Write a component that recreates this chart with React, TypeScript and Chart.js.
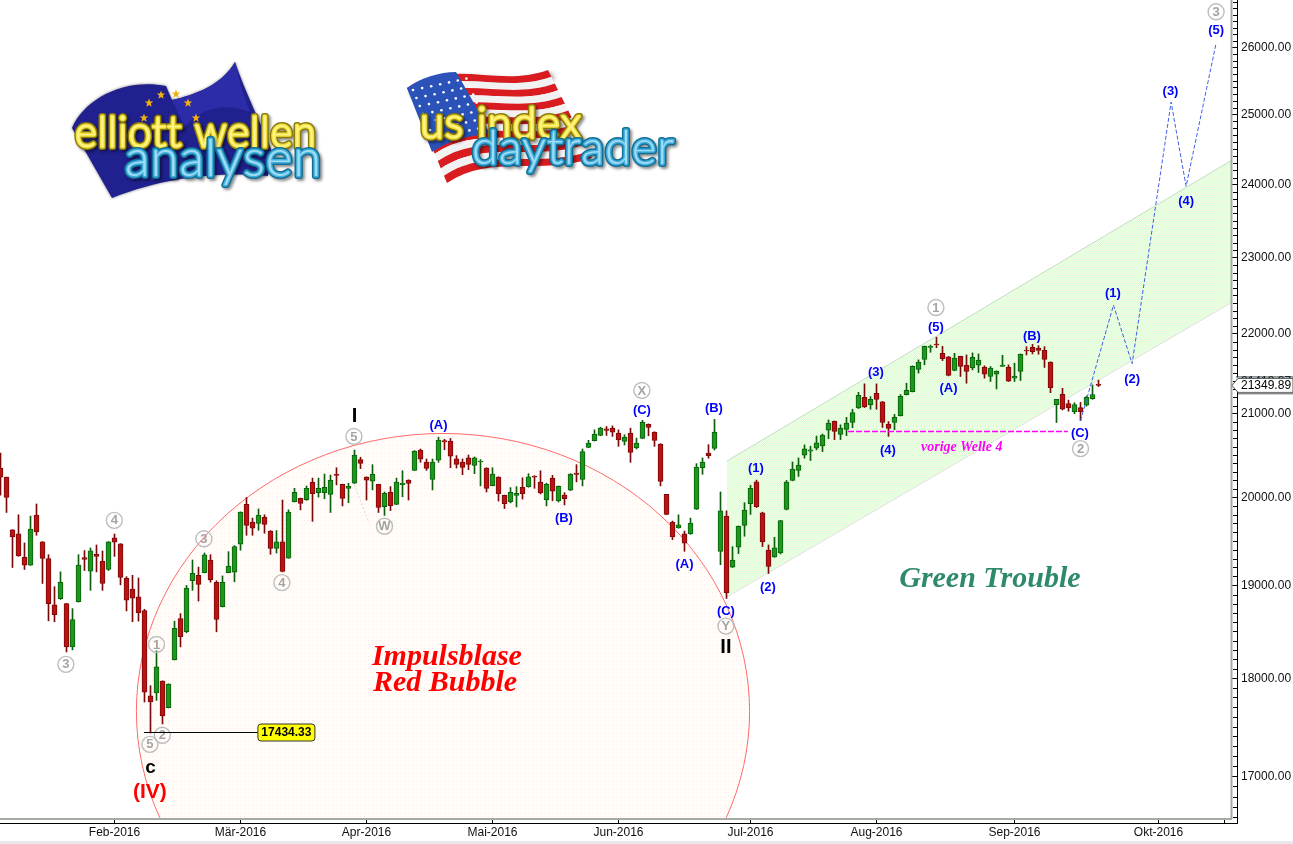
import React, { useEffect, useRef } from 'react';
import { Chart, registerables } from 'chart.js';
Chart.register(...registerables);

const opens = [20346,20239,19625,19579,19318,19227,19795,19488,19299,18788,
18853,18799,18332,18820,19310,19159,19352,19272,19178,19534,
19466,19079,18961,18874,18724,17816,17847,17969,17694,18196,
18637,18494,19052,19113,19143,19284,19034,18767,19143,19147,
19462,19920,19716,19701,19773,19613,19416,19488,19306,19951,
19989,19973,20179,20056,20056,20036,20275,20155,20107,20167,
20446,20239,20191,20155,19894,20060,19920,
20151,20203,20318,20561,20418,20211,20438,20673,20669,20454,20418,20466,20378,
20418,20346,20139,20239,20024,19951,20024,20119,20127,20251,
20179,19973,20227,19962,20028,20084,20287,20211,20593,20673,
20736,20816,20824,20764,20665,20764,20585,20700,20872,20776,
20633,20036,19716,19648,19579,19579,19864,20346,20525,20581,
19382,19784,19204,19428,19678,19928,20183,19822,19397,19318,
19363,19860,20199,20318,20499,20546,20582,20610,20801,20908,
20749,20809,20893,21072,21202,21110,21252,21147,20873,20893,
20976,21235,21273,21549,21674,21829,21870,21753,21708,21536,
21716,21603,21569,21603,21578,21461,21490,21586,21578,21440,
21523,21791,21829,21820,21791,21641,21110,21239,21126,21022,
21076,21105,21185,21365];
const closes = [20239,20000,19545,19329,19227,19636,19602,19303,18799,18680,
19034,18332,18627,19227,19291,19386,19325,19022,19488,19485,
19090,18838,18860,18698,17854,17752,18120,17609,17939,18530,
18440,18971,19136,19011,19341,19064,18627,19034,19215,19435,
19829,19678,19644,19795,19689,19416,19488,19155,19829,20060,
19932,20107,20044,20107,20119,20203,20259,19989,20131,20501,
20402,20203,20275,19883,20048,19905,20179,
20167,20163,20549,20450,20342,20418,20681,20657,20486,20390,20354,20390,20466,
20430,20107,20275,20044,19928,20060,20048,20044,20243,20239,
20052,20155,20072,20131,19985,20275,20271,20541,20645,20752,
20824,20796,20776,20681,20716,20533,20645,20896,20832,20677,
20187,19803,19545,19682,19473,19704,20358,20418,20494,20776,
19845,18921,19284,19666,19852,20107,19894,19488,19212,19420,
19731,20179,20334,20382,20574,20562,20646,20741,20885,20785,
20825,20885,21014,21227,21085,21177,21177,20893,20821,20956,
21214,21289,21590,21641,21841,21841,21858,21686,21473,21691,
21586,21523,21703,21666,21490,21565,21528,21603,21402,21465,
21741,21783,21774,21791,21674,21323,21177,21055,21072,21114,
21026,21202,21235,21350];
const highs = [20525,20239,19629,19799,19477,19784,19924,19492,19344,18986,
19151,18803,18745,19344,19390,19420,19454,19386,19492,19579,
19469,19098,19113,19083,18738,17922,18289,17973,17942,18609,
18691,19000,19284,19204,19363,19344,19052,19106,19378,19447,
19833,20000,19761,19867,19799,19617,19617,19970,19856,20107,
19992,20135,20227,20227,20275,20263,20350,20155,20167,20561,
20474,20243,20386,20155,20064,20127,20227,
20314,20207,20553,20573,20454,20454,20716,20689,20700,20494,20454,20501,20478,
20446,20350,20350,20243,20028,20115,20127,20231,20279,20255,
20314,20167,20259,20135,20056,20279,20386,20573,20677,20804,
20836,20844,20852,20804,20744,20824,20704,20919,20876,20780,
20637,20036,19727,19799,19613,19761,20398,20466,20625,20931,
20064,19845,19435,19670,19939,20143,20203,19829,19454,19541,
19735,20199,20418,20466,20622,20606,20729,20753,20924,20912,
20865,20956,21055,21264,21369,21210,21369,21151,20904,20992,
21235,21377,21595,21670,21845,21858,21958,21841,21712,21753,
21716,21732,21758,21745,21595,21586,21532,21728,21607,21628,
21745,21837,21866,21850,21837,21645,21177,21314,21168,21135,
21139,21218,21356,21415];
const lows = [20028,19826,19200,19325,19178,19223,19564,19022,18612,18602,
18846,18278,18300,18817,19166,18946,19151,18946,19166,19325,
19007,18720,18602,18609,17752,17434,17769,17527,17691,18192,
18332,18483,18946,18828,19140,19037,18494,18763,19140,19041,
19394,19564,19564,19621,19587,19348,19363,19151,19303,19947,
19856,19966,19723,20004,19985,19826,20147,19901,19939,20163,
20338,19970,20088,19826,19792,19848,19916,
20008,19970,20314,20414,20318,20088,20414,20565,20350,20346,20267,20326,20279,
20135,20064,20135,19958,19871,19936,19890,19981,20119,20107,
20040,19901,19962,19947,19913,20080,20183,20135,20589,20669,
20732,20736,20724,20605,20621,20414,20573,20696,20732,20605,
20135,19799,19515,19644,19382,19575,19860,20271,20462,20561,
19231,18856,19200,19356,19553,19803,19883,19435,19132,19314,
19352,19856,20195,20247,20463,20435,20562,20542,20698,20686,
20686,20733,20829,21064,21076,21055,21055,20833,20725,20805,
20972,21231,21269,21503,21607,21766,21824,21661,21469,21532,
21461,21377,21544,21511,21440,21398,21306,21586,21398,21398,
21411,21732,21745,21741,21574,21260,20893,21047,21030,21001,
20916,21093,21177,21335];

const monthTickIdx = [19, 40, 61, 82, 103, 125, 146, 169, 193, 204];
const monthLabels = ['Feb-2016', 'Mär-2016', 'Apr-2016', 'Mai-2016', 'Jun-2016', 'Jul-2016', 'Aug-2016', 'Sep-2016', 'Okt-2016', ''];
const priceTicks = [17000, 18000, 19000, 20000, 21000, 22000, 23000, 24000, 25000, 26000];

const channelUpperIdx = [121.08, 205.25];
const channelUpperPrice = [20430, 24347];
const channelLowerIdx = [121.08, 205.25];
const channelLowerPrice = [18875, 22412];

const forecastIdx = [180, 185.5, 188.6, 195.1, 197.6, 202.6];
const forecastPrice = [20915, 22372, 21622, 25183, 23977, 26061];

const prevWaveIdx = [141.25, 177.9];
const prevWavePrice = [20784, 20784];
const swingIdx = [59, 61.4];
const swingPrice = [20148, 19709];
const lowLineIdx = [23.9, 42.9];
const lowPrice = 17434.33;
const lastPrice = 21349.89;
const prevLastPrice = 21413.37;

const grayTexts = ['3', '4', '1', '5', '2', '3', '4', '5', 'W', 'X', 'Y', '1', '2', '3'];
const grayIdx = [10.9, 18.97, 26, 24.9, 26.97, 33.9, 46.9, 58.9, 64, 106.9, 120.9, 155.9, 180, 202.6];
const grayPrice = [18146, 19735, 18358, 17319, 17411, 19524, 19031, 20724, 19667, 21287, 18555, 22341, 20577, 26544];

const blueTexts = ['(A)', '(B)', '(C)', '(B)', '(A)', '(C)', '(1)', '(2)', '(3)', '(4)', '(5)', '(A)', '(B)', '(C)', '(1)', '(2)', '(3)', '(4)', '(5)'];
const blueIdx = [73, 93.9, 106.9, 118.9, 114, 120.9, 125.9, 127.9, 145.9, 147.9, 155.9, 158, 171.9, 179.9, 185.4, 188.6, 195, 197.6, 202.6];
const bluePrice = [20864, 19769, 21058, 21079, 19240, 18728, 20354, 18986, 21525, 20569, 22102, 21325, 21976, 20772, 22537, 21437, 25352, 23775, 26266];

const bubbleCenterIdx = 73.75;
const bubbleRadiusIdx = 51.1;
const bubbleTopPrice = 20760;
const bubbleCenterPrice = 17656;

function makeTile(size: number, bg: string, dots: [number, number, string][]) {
  const c = document.createElement('canvas');
  c.width = size; c.height = size;
  const g = c.getContext('2d')!;
  g.fillStyle = bg; g.fillRect(0, 0, size, size);
  dots.forEach(([x, y, col]) => { g.fillStyle = col; g.fillRect(x, y, 1, 1); });
  return g.createPattern(c, 'repeat')!;
}

function logoText(ctx: CanvasRenderingContext2D, text: string, x: number, y: number, w: number, font: string, outer: string, inner: string, hi: string) {
  ctx.save();
  ctx.font = font;
  (ctx as any).letterSpacing = '1px';
  ctx.lineJoin = 'round';
  ctx.lineCap = 'round';
  ctx.textAlign = 'left';
  ctx.textBaseline = 'alphabetic';
  ctx.shadowColor = 'rgba(0,0,0,0.45)';
  ctx.shadowBlur = 3;
  ctx.shadowOffsetX = 2;
  ctx.shadowOffsetY = 2;
  ctx.strokeStyle = outer;
  ctx.lineWidth = 6;
  ctx.strokeText(text, x, y, w);
  ctx.shadowColor = 'transparent';
  ctx.strokeStyle = inner;
  ctx.lineWidth = 3;
  ctx.strokeText(text, x, y, w);
  ctx.fillStyle = hi;
  ctx.fillText(text, x, y, w);
  ctx.restore();
}

function star(ctx: CanvasRenderingContext2D, x: number, y: number, r: number) {
  ctx.beginPath();
  for (let k = 0; k < 10; k++) {
    const a = -Math.PI / 2 + k * Math.PI / 5;
    const q = k % 2 ? r * 0.42 : r;
    const px = x + q * Math.cos(a), py = y + q * Math.sin(a);
    if (k === 0) ctx.moveTo(px, py); else ctx.lineTo(px, py);
  }
  ctx.closePath();
  ctx.fill();
}

function drawLogos(ctx: CanvasRenderingContext2D) {
  // EU flag
  ctx.save();
  ctx.shadowColor = 'rgba(60,60,60,0.7)';
  ctx.shadowBlur = 3;
  ctx.fillStyle = '#20208e';
  ctx.beginPath();
  ctx.moveTo(72, 128);
  ctx.bezierCurveTo(85, 98, 125, 78, 166, 86);
  ctx.lineTo(172, 100);
  ctx.bezierCurveTo(195, 95, 222, 85, 235, 62);
  ctx.bezierCurveTo(245, 92, 262, 125, 272, 152);
  ctx.lineTo(268, 176);
  ctx.bezierCurveTo(225, 172, 170, 175, 112, 198);
  ctx.closePath();
  ctx.fill();
  ctx.shadowColor = 'transparent';
  ctx.fillStyle = '#2c2ca8';
  ctx.beginPath();
  ctx.moveTo(172, 100);
  ctx.bezierCurveTo(195, 95, 222, 85, 235, 62);
  ctx.bezierCurveTo(240, 85, 245, 100, 250, 112);
  ctx.bezierCurveTo(220, 100, 195, 112, 185, 128);
  ctx.closePath();
  ctx.fill();
  ctx.fillStyle = '#f0b010';
  [[149, 103], [161, 95], [176, 94], [188, 103], [196, 118], [144, 118]].forEach(([x, y]) => star(ctx, x, y, 4.5));
  ctx.restore();

  // US flag
  ctx.save();
  ctx.shadowColor = 'rgba(60,60,60,0.6)';
  ctx.shadowBlur = 5;
  ctx.shadowOffsetX = 3;
  ctx.shadowOffsetY = 3;
  const stripeCount = 13;
  for (let s = 0; s < stripeCount; s++) {
    const a = s / stripeCount, b = (s + 1) / stripeCount;
    const lx = (t: number) => 407 + (447 - 407) * t, ly = (t: number) => 88 + (183 - 88) * t;
    const rx = (t: number) => 548 + (592 - 548) * t, ry = (t: number) => 70 + (158 - 70) * t;
    ctx.fillStyle = s % 2 ? '#f2f2f2' : '#d81c20';
    ctx.beginPath();
    ctx.moveTo(lx(a), ly(a));
    ctx.bezierCurveTo(lx(a) + 45, ly(a) - 30, rx(a) - 50, ry(a) + 18, rx(a), ry(a));
    ctx.lineTo(rx(b), ry(b));
    ctx.bezierCurveTo(rx(b) - 50, ry(b) + 18, lx(b) + 45, ly(b) - 30, lx(b), ly(b));
    ctx.closePath();
    ctx.fill();
    ctx.shadowColor = 'transparent';
  }
  ctx.fillStyle = '#2a52b8';
  ctx.beginPath();
  ctx.moveTo(407, 88);
  ctx.bezierCurveTo(420, 78, 440, 72, 456, 72);
  ctx.bezierCurveTo(470, 95, 482, 118, 490, 134);
  ctx.bezierCurveTo(470, 135, 450, 140, 432, 152);
  ctx.closePath();
  ctx.fill();
  ctx.fillStyle = '#ffffff';
  for (let r = 0; r < 7; r++) {
    for (let c = 0; c < 7; c++) {
      const px = 413 + c * 9.2 + r * 3.4 - (c * c) * 0.05;
      const py = 90 + r * 8 - c * 1.9;
      if (px + 0 < 486 && py > 74) { ctx.beginPath(); ctx.arc(px, py, 1.3, 0, Math.PI * 2); ctx.fill(); }
    }
  }
  ctx.restore();

  logoText(ctx, 'elliott wellen', 75, 147, 242, '300 44px "Lato"', '#8a7a08', '#f2e040', '#fff58a');
  logoText(ctx, 'analysen', 125, 176, 197, '300 52px "Lato"', '#0f6f96', '#43aedb', '#9fdcf5');
  logoText(ctx, 'us index', 420, 138, 162, '300 44px "Lato"', '#8a7a08', '#f2e040', '#fff58a');
  logoText(ctx, 'daytrader', 472, 164, 203, '300 48px "Lato"', '#0f6f96', '#43aedb', '#9fdcf5');
}

const overlayPlugin = {
  id: 'overlay',
  beforeDatasetsDraw(chart: any) {
    const { ctx, chartArea, scales } = chart;
    const xs = scales.x, ys = scales.y;
    ctx.save();
    drawLogos(ctx);
    ctx.beginPath();
    ctx.rect(chartArea.left, chartArea.top, chartArea.right - chartArea.left, chartArea.bottom - chartArea.top);
    ctx.clip();
    const cx = xs.getPixelForValue(bubbleCenterIdx);
    const rx = xs.getPixelForValue(bubbleCenterIdx + bubbleRadiusIdx) - cx;
    const cy = ys.getPixelForValue(bubbleCenterPrice);
    const ry = cy - ys.getPixelForValue(bubbleTopPrice);
    ctx.beginPath();
    ctx.ellipse(cx, cy, rx, ry, 0, 0, Math.PI * 2);
    ctx.fillStyle = makeTile(4, '#fffefc', [[0, 0, '#ffe8e8'], [2, 2, '#fff6e0']]);
    ctx.fill();
    ctx.strokeStyle = '#ff6a6a';
    ctx.lineWidth = 1;
    ctx.stroke();
    ctx.restore();
  },
  afterDatasetsDraw(chart: any) {
    const { ctx, chartArea, scales } = chart;
    const xs = scales.x, ys = scales.y;
    ctx.save();
    ctx.textAlign = 'center';
    ctx.textBaseline = 'middle';

    // big notes
    const note = (t: string, idx: number, price: number, font: string, color: string, dy = 0) => {
      ctx.font = font; ctx.fillStyle = color;
      ctx.fillText(t, xs.getPixelForValue(idx), ys.getPixelForValue(price) + dy);
    };
    note('Impulsblase', 74.4, 18239, 'italic bold 30px "Liberation Serif"', '#ff0000', 2);
    note('Red Bubble', 74.1, 17972, 'italic bold 30px "Liberation Serif"', '#ff0000', 2);
    note('Green Trouble', 164.9, 19095, 'italic bold 30px "Liberation Serif"', '#2e8b6a', 2);
    note('vorige Welle 4', 160.2, 20601, 'italic bold 14px "Liberation Serif"', '#ff00ff', 1);
    note('I', 59, 20963, 'bold 20px "Liberation Sans"', '#000000');
    note('II', 120.9, 18336, 'bold 20px "Liberation Sans"', '#000000', 1);
    note('c', 25, 17088, 'bold 19px "Liberation Sans"', '#000000');
    note('(IV)', 24.9, 16841, 'bold 21px "Liberation Sans"', '#ff0000');

    // gray wave marks
    grayTexts.forEach((t, i) => {
      const x = xs.getPixelForValue(grayIdx[i]), y = ys.getPixelForValue(grayPrice[i]);
      ctx.beginPath();
      ctx.arc(x, y, 8, 0, Math.PI * 2);
      ctx.strokeStyle = '#bdbdbd';
      ctx.lineWidth = 1.4;
      ctx.stroke();
      ctx.font = 'bold 13px "Liberation Sans"';
      ctx.fillStyle = '#a4a4a4';
      ctx.fillText(t, x, y + 0.5);
    });

    // blue wave marks
    ctx.font = 'bold 13px "Liberation Sans"';
    ctx.fillStyle = '#0000ff';
    blueTexts.forEach((t, i) => {
      ctx.fillText(t, xs.getPixelForValue(blueIdx[i]), ys.getPixelForValue(bluePrice[i]) + 1);
    });

    // low line and badge
    const ly = ys.getPixelForValue(lowPrice);
    const lowRow = Math.floor(ly - 0.5);
    const lx0 = xs.getPixelForValue(lowLineIdx[0]);
    const lx = xs.getPixelForValue(lowLineIdx[1]);
    ctx.fillStyle = '#000000';
    ctx.fillRect(lx0, lowRow, lx - lx0, 1);
    ctx.beginPath();
    ctx.roundRect(lx, lowRow - 8, 57, 17, 3);
    ctx.fillStyle = '#ffff00';
    ctx.fill();
    ctx.strokeStyle = '#333333';
    ctx.lineWidth = 1;
    ctx.stroke();
    ctx.font = 'bold 12px "Liberation Sans"';
    ctx.fillStyle = '#000000';
    ctx.fillText(lowPrice.toFixed(2), lx + 28.5, lowRow + 1);

    // frame and minor ticks
    const right = chartArea.right, bottom = chartArea.bottom;
    ctx.fillStyle = '#a4aca2';
    ctx.fillRect(right - 1.5, 0, 2, bottom);
    ctx.fillRect(0, bottom - 1, right, 2);
    ctx.fillStyle = '#000000';
    ctx.fillRect(1237, 0, 1, 824);
    ctx.fillRect(0, 823, 1238, 1);
    for (let v = 16600; v <= 26700; v += 100) {
      if (v % 1000 === 0) continue;
      ctx.fillRect(1233, Math.round(ys.getPixelForValue(v)), 4, 1);
    }

    // last price flags
    const py = ys.getPixelForValue(lastPrice);
    const ppy = ys.getPixelForValue(prevLastPrice);
    ctx.save();
    ctx.beginPath();
    ctx.rect(1232, ppy - 4, 61, 6);
    ctx.clip();
    ctx.fillStyle = '#cdeeff';
    ctx.fillRect(1236, ppy - 3, 57, 12);
    ctx.fillStyle = '#333333';
    ctx.fillRect(1236, ppy - 4, 57, 1);
    ctx.font = '12px "Liberation Sans"';
    ctx.textAlign = 'left';
    ctx.fillStyle = '#000000';
    ctx.fillText(prevLastPrice.toFixed(2), 1241, ppy + 1);
    ctx.restore();
    ctx.beginPath();
    ctx.moveTo(1293, py - 7);
    ctx.lineTo(1238, py - 7);
    ctx.lineTo(1232, py);
    ctx.lineTo(1238, py + 7);
    ctx.lineTo(1293, py + 7);
    ctx.closePath();
    ctx.fillStyle = '#ffffff';
    ctx.fill();
    ctx.strokeStyle = '#555555';
    ctx.lineWidth = 1;
    ctx.stroke();
    ctx.fillStyle = '#888888';
    ctx.fillRect(1238, py + 7, 55, 2);
    ctx.font = '12px "Liberation Sans"';
    ctx.textAlign = 'left';
    ctx.fillStyle = '#000000';
    ctx.fillText(lastPrice.toFixed(2), 1241, py + 0.5);

    // window strip
    ctx.fillStyle = '#e9e8ef';
    ctx.fillRect(0, 841, 1293, 3);
    ctx.restore();
  },
};

const toXY = (xs: number[], ys: number[]) => xs.map((x, i) => ({ x, y: ys[i] }));

export default function App() {
  const ref = useRef<HTMLCanvasElement>(null);
  useEffect(() => {
    const idx = opens.map((_, i) => i);
    const up = (i: number) => closes[i] >= opens[i];
    const channelFill = makeTile(2, '#dcfbd8', [[0, 0, '#f2ffe4'], [1, 1, '#e8fff6']]);
    const chart = new Chart(ref.current!, {
      type: 'bar',
      data: {
        datasets: [
          {
            type: 'line', data: toXY(channelUpperIdx, channelUpperPrice), order: 9,
            borderColor: '#c4dcc4', borderWidth: 1, pointRadius: 0,
            fill: { target: '+1', above: channelFill, below: channelFill },
          },
          {
            type: 'line', data: toXY(channelLowerIdx, channelLowerPrice), order: 9,
            borderColor: '#d8c8dc', borderWidth: 1, pointRadius: 0, fill: false,
          },
          {
            type: 'line', data: toXY(swingIdx, swingPrice), order: 8,
            borderColor: '#e6d6d6', borderWidth: 1, borderDash: [2, 2], pointRadius: 0, fill: false,
          },
          {
            data: idx.map(i => ({ x: i, y: [lows[i], highs[i]] })), order: 3,
            backgroundColor: idx.map(i => (up(i) ? '#0b5f0b' : '#7a0a0a')),
            barThickness: 1, grouped: false, borderWidth: 0,
          },
          {
            data: idx.map(i => ({ x: i, y: [Math.min(opens[i], closes[i]), Math.max(opens[i], closes[i])] })), order: 2,
            backgroundColor: idx.map(i => (up(i) ? '#1c981c' : '#bc1212')),
            borderColor: idx.map(i => (up(i) ? '#0b5f0b' : '#7a0a0a')),
            borderWidth: 1, borderSkipped: false, barThickness: 5, grouped: false,
          },
          {
            type: 'line', data: toXY(prevWaveIdx, prevWavePrice), order: 1,
            borderColor: '#ff00ff', borderWidth: 1.3, borderDash: [6, 2], pointRadius: 0, fill: false,
          },
          {
            type: 'line', data: toXY(forecastIdx, forecastPrice), order: 1,
            borderColor: '#3f5fe8', borderWidth: 1, borderDash: [4, 2], pointRadius: 0, fill: false, tension: 0,
          },
        ] as any,
      },
      options: {
        responsive: false,
        animation: false,
        devicePixelRatio: 1,
        events: [],
        layout: { padding: 0 },
        plugins: { legend: { display: false }, tooltip: { enabled: false } },
        scales: {
          x: {
            type: 'linear',
            offset: false,
            min: -0.0833,
            max: 205.25,
            grid: { offset: false, drawOnChartArea: false, drawTicks: true, tickLength: 5, tickColor: '#000000' },
            border: { display: false },
            afterBuildTicks: (axis: any) => { axis.ticks = monthTickIdx.map(v => ({ value: v })); },
            afterFit: (axis: any) => { axis.height = 25; axis.paddingLeft = 0; axis.paddingRight = 0; },
            ticks: {
              autoSkip: false, maxRotation: 0, padding: 1,
              font: { family: '"Liberation Sans"', size: 12 }, color: '#111111',
              callback: (v: any) => monthLabels[monthTickIdx.indexOf(Number(v))] ?? '',
            },
          },
          y: {
            type: 'logarithmic',
            position: 'right',
            min: 16582,
            max: 26727,
            bounds: 'data',
            grid: { drawOnChartArea: false, drawTicks: true, tickLength: 5, tickColor: '#000000' },
            border: { display: false },
            afterBuildTicks: (axis: any) => { axis.ticks = priceTicks.map(v => ({ value: v })); },
            afterFit: (axis: any) => { axis.width = 61; axis.paddingTop = 0; axis.paddingBottom = 0; },
            ticks: {
              autoSkip: false, padding: 4,
              font: { family: '"Liberation Sans"', size: 12 }, color: '#111111',
              callback: (v: any) => Number(v).toFixed(2),
            },
          },
        },
      } as any,
      plugins: [overlayPlugin],
    });
    return () => chart.destroy();
  }, []);
  return <canvas ref={ref} width={1293} height={844} style={{ position: 'absolute', left: 0, top: 0, display: 'block' }} />;
}
